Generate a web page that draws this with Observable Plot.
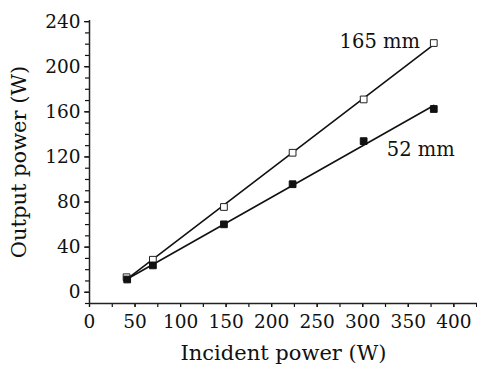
<!DOCTYPE html>
<html>
<head>
<meta charset="utf-8">
<script src="https://cdn.jsdelivr.net/npm/d3@7"></script>
<script src="https://cdn.jsdelivr.net/npm/@observablehq/plot@0.6"></script>
<style>
  html, body { margin: 0; padding: 0; background: #fff; }
  #chart svg { display: block; }
</style>
</head>
<body>
<div id="chart"></div>
<script>
// Incident power (W)
const incident165 = [40.7, 69.6, 147.6, 223, 301, 378];
const output165   = [13.3, 28.8, 75.6, 123.7, 171, 221];
const incident52  = [41.4, 69.6, 147.6, 223, 301, 378];
const output52    = [11.3, 23.8, 60.2, 95.8, 134, 162.5];
const seriesLabels = ["165 mm", "52 mm"];
const labelX = [318.7, 363.7];
const labelY = [222, 126];
const xMajorTicks = [0, 50, 100, 150, 200, 250, 300, 350, 400];
const xMinorTicks = d3.range(0, 426, 25);
const yMajorTicks = [0, 40, 80, 120, 160, 200, 240];
const yMinorTicks = d3.range(-10, 241, 10);

const d165 = incident165.map((x, i) => ({x, y: output165[i]}));
const d52 = incident52.map((x, i) => ({x, y: output52[i]}));
const labels = seriesLabels.map((t, i) => ({t, x: labelX[i], y: labelY[i]}));

const font = "DejaVu Serif";
const chart = Plot.plot({
  width: 477,
  height: 366,
  marginLeft: 89,
  marginRight: 0,
  marginTop: 20,
  marginBottom: 63,
  style: {fontFamily: font, fontSize: "18px", color: "#111", background: "#fff"},
  x: {domain: [0, 426]},
  y: {domain: [-10, 241]},
  marks: [
    Plot.axisX({ticks: xMinorTicks, tickSize: 4, text: null, label: null, strokeWidth: 1.2}),
    Plot.axisX({ticks: xMajorTicks, tickSize: 4, tickPadding: 7, label: null, fontSize: 18.5, strokeWidth: 1.2}),
    Plot.axisY({ticks: yMinorTicks, tickSize: 4, text: null, label: null, strokeWidth: 1.2}),
    Plot.axisY({ticks: yMajorTicks, tickSize: 5, tickPadding: 4, label: null, fontSize: 18.5, strokeWidth: 1.2}),
    Plot.axisX({ticks: [], label: "Incident power (W)", labelAnchor: "center", labelArrow: "none", labelOffset: 56, fontSize: 21}),
    Plot.axisY({ticks: [], label: "Output power (W)", labelAnchor: "center", labelArrow: "none", labelOffset: 78, fontSize: 21}),
    Plot.ruleX([0], {stroke: "#222", strokeWidth: 1.5}),
    Plot.ruleY([-10], {stroke: "#222", strokeWidth: 1.5}),
    Plot.linearRegressionY(d165, {x: "x", y: "y", ci: 0, stroke: "#111", strokeWidth: 1.6}),
    Plot.linearRegressionY(d52, {x: "x", y: "y", ci: 0, stroke: "#111", strokeWidth: 1.6}),
    Plot.dot(d165, {x: "x", y: "y", symbol: "square", r: 3.8, fill: "#fff", stroke: "#222", strokeWidth: 1}),
    Plot.dot(d52, {x: "x", y: "y", symbol: "square", r: 3.8, fill: "#111", stroke: "#111", strokeWidth: 1}),
    Plot.text(labels, {x: "x", y: "y", text: "t", fontSize: 19.5, fill: "#111", fontFamily: font})
  ]
});
document.getElementById("chart").appendChild(chart);
</script>
</body>
</html>
